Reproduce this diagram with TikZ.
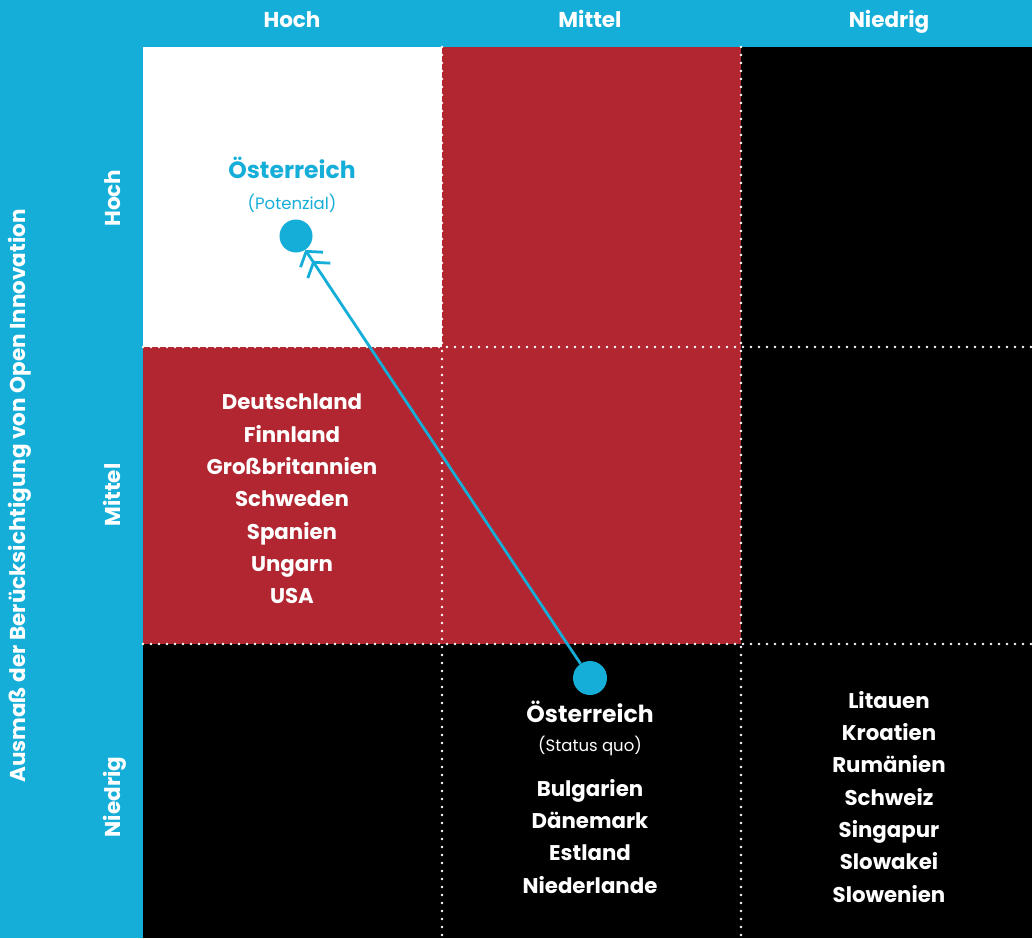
\documentclass[tikz,border=0pt]{standalone}
\usepackage{fontspec}
\setmainfont{Poppins}
\usetikzlibrary{arrows.meta}
\definecolor{oiblue}{RGB}{21,174,216}
\definecolor{oired}{RGB}{178,38,49}
\begin{document}
\begin{tikzpicture}[x=1pt,y=-1pt,
  hdr/.style={text=white,font=\fontsize{21.5}{24}\selectfont\bfseries,inner sep=0pt,anchor=base},
  lst/.style={text=white,font=\fontsize{21.3}{32.3}\selectfont\bfseries,align=center,inner sep=0pt,anchor=north},
  big/.style={font=\fontsize{23.5}{26}\selectfont\bfseries,inner sep=0pt},
  sml/.style={font=\fontsize{16.5}{19}\selectfont,inner sep=0pt},
  dotline/.style={white,line width=2.6pt,line cap=round,dash pattern=on 0pt off 8pt},
  dot/.style={circle,fill=oiblue,inner sep=0pt},
  arr/.style={oiblue,line width=2.8pt,-{Straight Barb[length=10pt,width=27pt,line width=2.8pt] Straight Barb[length=10pt,width=27pt,line width=2.8pt]}}]
\useasboundingbox (0,0) rectangle (1032,938);
\fill[oiblue] (0,0) rectangle (1032,938);
% cells
\fill[white] (143,47) rectangle (442,347);
\fill[oired] (442,47) rectangle (741,347);
\fill[black] (741,47) rectangle (1032,347);
\fill[oired] (143,347) rectangle (741,644);
\fill[black] (741,347) rectangle (1032,644);
\fill[black] (143,644) rectangle (1032,938);
% dotted grid lines
\draw[dotline] (442,47) -- (442,938);
\draw[dotline] (741,47) -- (741,938);
\draw[dotline] (143,347) -- (1032,347);
\draw[dotline] (143,644) -- (1032,644);
% headers
\node[hdr] (h1) at (292,27) {Hoch};
\node[hdr] (h2) at (590,27) {Mittel};
\node[hdr] (h3) at (889,27) {Niedrig};
\node[hdr,rotate=90] (v1) at (120,198) {Hoch};
\node[hdr,rotate=90] (v2) at (120,495) {Mittel};
\node[hdr,rotate=90] (v3) at (120,797) {Niedrig};
\node[hdr,rotate=90] (axis) at (25,496) {Ausmaß der Berücksichtigung von Open Innovation};
% potential
\node[big,text=oiblue] (pot) at (292,168) {Österreich};
\node[sml,text=oiblue] (potsub) at (292,203) {(Potenzial)};
\node[dot,minimum size=33pt] (pdot) at (296,236) {};
% middle list
\node[lst] (mid) at (292,394) {Deutschland\\Finnland\\Großbritannien\\Schweden\\Spanien\\Ungarn\\USA};
% status quo
\node[dot,minimum size=34pt] (sdot) at (590,678) {};
\node[big,text=white] (sq) at (590,712) {Österreich};
\node[sml,text=white] (sqsub) at (590,746) {(Status quo)};
\node[lst] (low) at (590,779) {Bulgarien\\Dänemark\\Estland\\Niederlande};
\node[lst] (right) at (889,691) {Litauen\\Kroatien\\Rumänien\\Schweiz\\Singapur\\Slowakei\\Slowenien};
% arrow
\draw[arr,shorten >=0pt] (sdot) -- (pdot);
\end{tikzpicture}
\end{document}
